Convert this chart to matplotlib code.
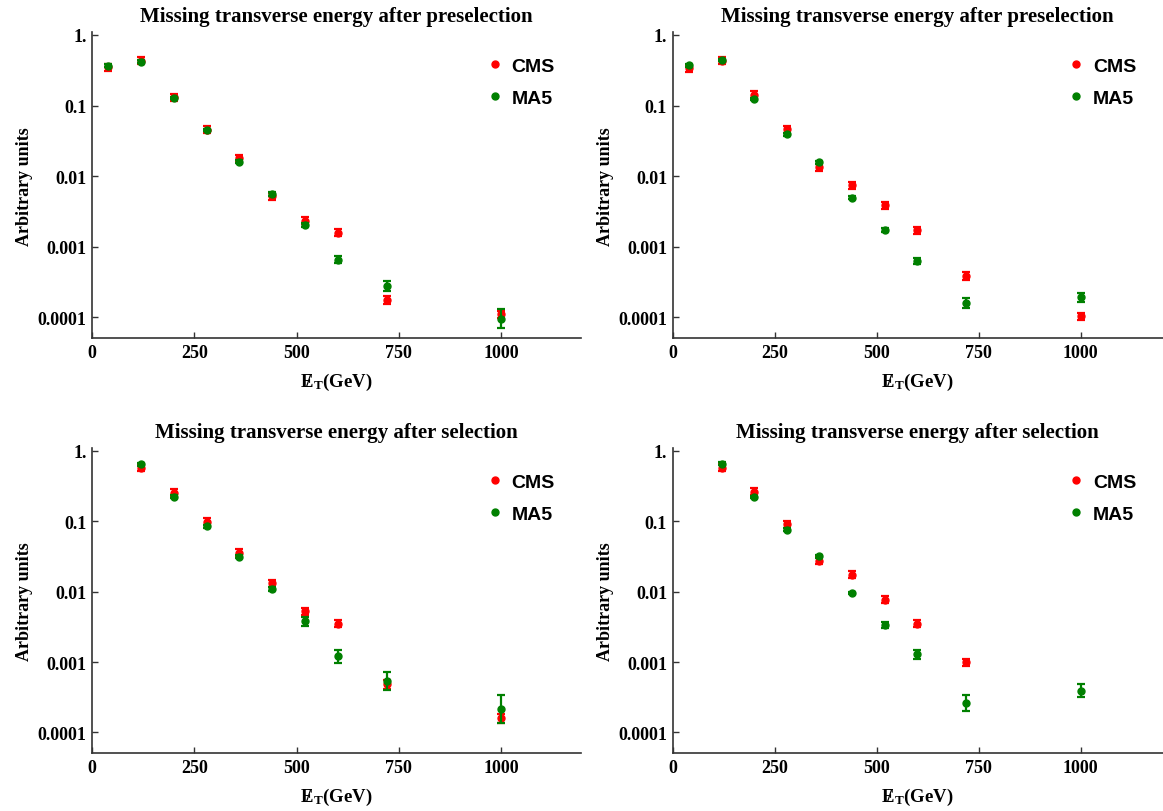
import numpy as np
import matplotlib
matplotlib.use("Agg")
import matplotlib.pyplot as plt
from matplotlib.lines import Line2D

plt.rcParams["font.family"] = ["Liberation Serif", "DejaVu Serif"]
plt.rcParams["font.weight"] = "bold"
plt.rcParams["mathtext.fontset"] = "custom"
plt.rcParams["mathtext.rm"] = "Liberation Serif:bold"
plt.rcParams["mathtext.bf"] = "Liberation Serif:bold"
plt.rcParams["mathtext.it"] = "Liberation Serif:bold"

# bin centres (GeV)
x_pre = [40, 120, 200, 280, 360, 440, 520, 600, 720, 1000]
x_sel = [120, 200, 280, 360, 440, 520, 600, 720, 1000]

# values and error half-widths (in decades)
cms_a = [0.348, 0.428, 0.132, 0.0454, 0.0178, 0.00515, 0.00232, 0.00159, 0.000174, 0.000110]
cms_a_dex = [0.05, 0.05, 0.05, 0.05, 0.05, 0.05, 0.05, 0.055, 0.055, 0.05]
ma5_a = [0.367, 0.420, 0.128, 0.045, 0.0161, 0.00556, 0.00202, 0.000658, 0.000278, 0.0000957]
ma5_a_dex = [0.02, 0.02, 0.02, 0.02, 0.02, 0.03, 0.03, 0.055, 0.07, 0.135]

cms_b = [0.337, 0.433, 0.141, 0.046, 0.0133, 0.00738, 0.00388, 0.0017, 0.000382, 0.000104]
cms_b_dex = [0.05, 0.05, 0.05, 0.05, 0.05, 0.05, 0.05, 0.055, 0.055, 0.05]
ma5_b = [0.371, 0.442, 0.124, 0.0394, 0.0158, 0.00493, 0.00171, 0.000622, 0.000162, 0.000192]
ma5_b_dex = [0.02, 0.02, 0.02, 0.02, 0.02, 0.02, 0.03, 0.04, 0.07, 0.065]

cms_c = [0.58, 0.256, 0.098, 0.036, 0.0131, 0.00528, 0.00353, 0.00048, 0.000158]
cms_c_dex = [0.05, 0.05, 0.05, 0.05, 0.05, 0.05, 0.05, 0.06, 0.07]
ma5_c = [0.645, 0.225, 0.0854, 0.0312, 0.01087, 0.00377, 0.0012, 0.000542, 0.000214]
ma5_c_dex = [0.02, 0.02, 0.02, 0.02, 0.03, 0.06, 0.095, 0.125, 0.2]

cms_d = [0.58, 0.262, 0.091, 0.0274, 0.01734, 0.00774, 0.00353, 0.000986, np.nan]
cms_d_dex = [0.05, 0.05, 0.05, 0.05, 0.05, 0.05, 0.05, 0.05, 0.05]
ma5_d = [0.66, 0.222, 0.0755, 0.0319, 0.0096, 0.00338, 0.00129, 0.000261, 0.00039]
ma5_d_dex = [0.02, 0.02, 0.02, 0.02, 0.02, 0.04, 0.065, 0.11, 0.09]

title_pre = "Missing transverse energy after preselection"
title_sel = "Missing transverse energy after selection"
y_ticks = [1e-4, 1e-3, 1e-2, 1e-1, 1]
y_ticklabels = ["0.0001", "0.001", "0.01", "0.1", "1."]
x_ticks = [0, 250, 500, 750, 1000]

RED = "#ff0000"
GREEN = "#008000"
AXC = "#333333"
W, H = 1163, 812


def log_err(vals, dex):
    v = np.array(vals, dtype=float)
    d = np.array(dex, dtype=float)
    return [v - v * 10 ** (-d), v * 10 ** d - v]


def panel(rect, title, x, cms, cms_dex, ma5, ma5_dex, xmax):
    l, t, r, b = rect
    ax = fig.add_axes([l / W, 1 - b / H, (r - l) / W, (b - t) / H])
    ax.set_yscale("log")
    ax.errorbar(x, cms, yerr=log_err(cms, cms_dex), fmt="o", color=RED, ms=5,
                elinewidth=1.6, capsize=3, capthick=1.6, zorder=3)
    ax.errorbar(x, ma5, yerr=log_err(ma5, ma5_dex), fmt="o", color=GREEN, ms=5,
                elinewidth=1.6, capsize=3, capthick=1.6, zorder=4)
    ax.set_xlim(0, xmax)
    ax.set_ylim(5.05e-5, 1.09)
    ax.set_yticks(y_ticks)
    ax.set_yticklabels(y_ticklabels)
    ax.yaxis.set_minor_locator(matplotlib.ticker.NullLocator())
    ax.set_xticks(x_ticks)
    for s in ["top", "right"]:
        ax.spines[s].set_visible(False)
    for s in ["left", "bottom"]:
        ax.spines[s].set_color(AXC)
        ax.spines[s].set_linewidth(1.2)
    ax.tick_params(direction="in", length=4, width=1, color=AXC, labelsize=13, pad=4)
    ax.set_title(title, fontsize=15, fontweight="bold", pad=8)
    ax.set_ylabel("Arbitrary units", fontsize=13, fontweight="bold", labelpad=3)
    ax.set_xlabel(r"$/\!\!\!\!\mathrm{E}_\mathrm{T}$" + "(GeV)", fontsize=13.5,
                  fontweight="bold", labelpad=7)
    handles = [Line2D([], [], ls="", marker="o", color=RED, ms=5),
               Line2D([], [], ls="", marker="o", color=GREEN, ms=5)]
    ax.legend(handles, ["CMS", "MA5"], loc="upper left", bbox_to_anchor=(0.772, 0.975),
              frameon=False, handlelength=0.8, handletextpad=0.45, labelspacing=0.75,
              prop={"family": "Liberation Sans", "weight": "bold", "size": 14})
    return ax


fig = plt.figure(figsize=(W / 100, H / 100), dpi=100)
panel((92, 33.3, 581, 339.3), title_pre, x_pre, cms_a, cms_a_dex, ma5_a, ma5_a_dex, 1195)
panel((672.6, 33.3, 1163, 339.3), title_pre, x_pre, cms_b, cms_b_dex, ma5_b, ma5_b_dex, 1202)
panel((92, 449.3, 581, 754.3), title_sel, x_sel, cms_c, cms_c_dex, ma5_c, ma5_c_dex, 1195)
panel((672.6, 449.3, 1163, 754.3), title_sel, x_sel, cms_d, cms_d_dex, ma5_d, ma5_d_dex, 1202)

fig.savefig("out.png", dpi=100)
